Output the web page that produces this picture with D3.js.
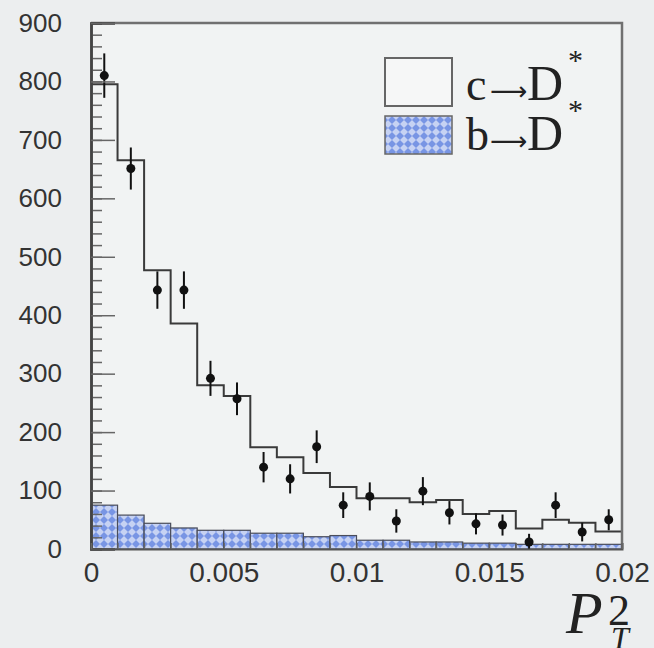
<!DOCTYPE html>
<html>
<head>
<meta charset="utf-8">
<script src="https://cdn.jsdelivr.net/npm/d3@7"></script>
<style>
  html, body { margin: 0; padding: 0; background: #eceeef; }
  svg { display: block; }
</style>
</head>
<body>
<div id="chart"></div>
<script>
// bin low edges in P_T^2
const binLow = [0, 0.001, 0.002, 0.003, 0.004, 0.005, 0.006, 0.007, 0.008, 0.009,
                0.010, 0.011, 0.012, 0.013, 0.014, 0.015, 0.016, 0.017, 0.018, 0.019];
const binWidth = 0.001;

// c -> D* histogram (open)
const cHist = [795, 665, 477, 386, 280, 262, 174, 157, 130, 106,
               87, 87, 80, 84, 60, 65, 35, 50, 45, 30];
// b -> D* histogram (hatched blue)
const bHist = [75, 58, 44, 36, 32, 32, 27, 27, 21, 23,
               15, 15, 12, 12, 10, 10, 8, 8, 8, 8];
// data points with errors
const dataVal = [810, 651, 443, 443, 292, 257, 140, 120, 175, 75,
                 90, 48, 99, 62, 43, 41, 12, 75, 29, 50];
const dataErr = [38, 36, 32, 32, 30, 28, 26, 25, 28, 22,
                 24, 20, 24, 20, 18, 18, 14, 22, 16, 18];

const yTicks = [0, 100, 200, 300, 400, 500, 600, 700, 800, 900];
const xTicks = [0, 0.005, 0.01, 0.015, 0.02];
const xTickLabels = ["0", "0.005", "0.01", "0.015", "0.02"];
const legendFrom = ["c", "b"];

const W = 654, H = 648;
const margin = {top: 23, right: 32, bottom: 99, left: 91};

const svg = d3.select("#chart").append("svg")
  .attr("width", W).attr("height", H);

const x = d3.scaleLinear().domain([0, 0.02]).range([margin.left, W - margin.right]);
const y = d3.scaleLinear().domain([0, 900]).range([H - margin.bottom, margin.top]);

// hatch pattern for the b histogram
const defs = svg.append("defs");
const pat = defs.append("pattern")
  .attr("id", "hatch").attr("patternUnits", "userSpaceOnUse")
  .attr("width", 8).attr("height", 8);
pat.append("rect").attr("width", 8).attr("height", 8).attr("fill", "#7895e4");
pat.append("path").attr("d", "M4,0 L8,4 L4,8 L0,4 Z").attr("fill", "#c6d2f3");

// plot background
svg.append("rect")
  .attr("x", x(0)).attr("y", y(900))
  .attr("width", x(0.02) - x(0)).attr("height", y(0) - y(900))
  .attr("fill", "#f1f3f3");

// b histogram as bars
svg.append("g").selectAll("rect")
  .data(binLow)
  .join("rect")
    .attr("x", (d) => x(d))
    .attr("y", (d, i) => y(bHist[i]))
    .attr("width", (d) => x(d + binWidth) - x(d))
    .attr("height", (d, i) => y(0) - y(bHist[i]))
    .attr("fill", "url(#hatch)")
    .attr("stroke", "#4a4d5a")
    .attr("stroke-width", 1.2);

// c histogram as step line
const stepPts = [];
binLow.forEach((d, i) => {
  stepPts.push([d, cHist[i]]);
  stepPts.push([d + binWidth, cHist[i]]);
});
svg.append("path")
  .datum(stepPts)
  .attr("fill", "none")
  .attr("stroke", "#3a3a3a")
  .attr("stroke-width", 2)
  .attr("d", d3.line().x((d) => x(d[0])).y((d) => y(d[1])));

// data points
const pts = svg.append("g").selectAll("g")
  .data(binLow)
  .join("g");
pts.append("line")
  .attr("x1", (d) => x(d + binWidth / 2)).attr("x2", (d) => x(d + binWidth / 2))
  .attr("y1", (d, i) => y(dataVal[i] + dataErr[i]))
  .attr("y2", (d, i) => y(Math.max(0, dataVal[i] - dataErr[i])))
  .attr("stroke", "#111").attr("stroke-width", 2);
pts.append("circle")
  .attr("cx", (d) => x(d + binWidth / 2))
  .attr("cy", (d, i) => y(dataVal[i]))
  .attr("r", 4.5)
  .attr("fill", "#111");

// frame top and right
svg.append("path")
  .attr("d", `M${x(0)},${y(900)} H${x(0.02)} V${y(0)}`)
  .attr("fill", "none").attr("stroke", "#707070").attr("stroke-width", 2.5);

// y axis: minor and major ticks pointing inside
const yMinor = svg.append("g")
  .attr("transform", `translate(${x(0)},0)`)
  .call(d3.axisRight(y).ticks(45).tickSize(11).tickFormat(""));
const yMajor = svg.append("g")
  .attr("transform", `translate(${x(0)},0)`)
  .call(d3.axisRight(y).tickValues(yTicks).tickSize(24).tickFormat(""));
[yMinor, yMajor].forEach((g) => {
  g.select(".domain").attr("stroke", "#444").attr("stroke-width", 2.5);
  g.selectAll(".tick line").attr("stroke", "#666").attr("stroke-width", 1.5);
});

const yLab = svg.append("g")
  .attr("transform", `translate(${x(0)},0)`)
  .call(d3.axisLeft(y).tickValues(yTicks).tickSize(0).tickPadding(29));
yLab.select(".domain").remove();
yLab.selectAll("text")
  .attr("font-family", "Liberation Sans, Arial, sans-serif")
  .attr("font-size", 26).attr("fill", "#333");

// x axis
const xAx = svg.append("g")
  .attr("transform", `translate(0,${y(0)})`)
  .call(d3.axisTop(x).ticks(20).tickSize(6).tickFormat(""));
xAx.select(".domain").attr("stroke", "#555").attr("stroke-width", 2);
xAx.selectAll(".tick line").attr("stroke", "#666").attr("stroke-width", 1.2);

const xLab = svg.append("g")
  .attr("transform", `translate(0,${y(0)})`)
  .call(d3.axisBottom(x).tickValues(xTicks).tickSize(0).tickPadding(13)
    .tickFormat((d, i) => xTickLabels[i]));
xLab.select(".domain").remove();
xLab.selectAll("text")
  .attr("font-family", "Liberation Sans, Arial, sans-serif")
  .attr("font-size", 28).attr("fill", "#333");

// axis title P_T^2 as one text
const title = svg.append("text")
  .attr("x", 566).attr("y", 633)
  .attr("font-family", "Liberation Serif, Times New Roman, serif")
  .attr("font-style", "italic").attr("fill", "#222");
title.append("tspan").attr("font-size", 60).text("P");
title.append("tspan").attr("x", 608).attr("dy", -8).attr("font-size", 44)
  .attr("font-style", "normal").text("2");
title.append("tspan").attr("x", 611).attr("dy", 24).attr("font-size", 32).text("T");

// legend
const leg = svg.append("g");
leg.append("rect").attr("x", 385).attr("y", 58).attr("width", 67).attr("height", 48)
  .attr("fill", "#f6f7f7").attr("stroke", "#666").attr("stroke-width", 2);
leg.append("rect").attr("x", 385).attr("y", 116).attr("width", 67).attr("height", 38)
  .attr("fill", "url(#hatch)").attr("stroke", "#666").attr("stroke-width", 1.5);
legendFrom.forEach((t, i) => {
  const base = i === 0 ? 100 : 150;
  const txt = leg.append("text")
    .attr("x", 466).attr("y", base)
    .attr("font-family", "Liberation Serif, Times New Roman, serif")
    .attr("font-size", 46).attr("fill", "#222");
  txt.append("tspan").text(t);
  txt.append("tspan").attr("x", 490).attr("font-family", "DejaVu Sans")
    .attr("font-size", 26).text("\u27F6");
  txt.append("tspan").attr("x", 527).attr("font-size", 50).text("D");
  txt.append("tspan").attr("x", 568).attr("dy", -30).attr("font-size", 30).text("*");
});
</script>
</body>
</html>
